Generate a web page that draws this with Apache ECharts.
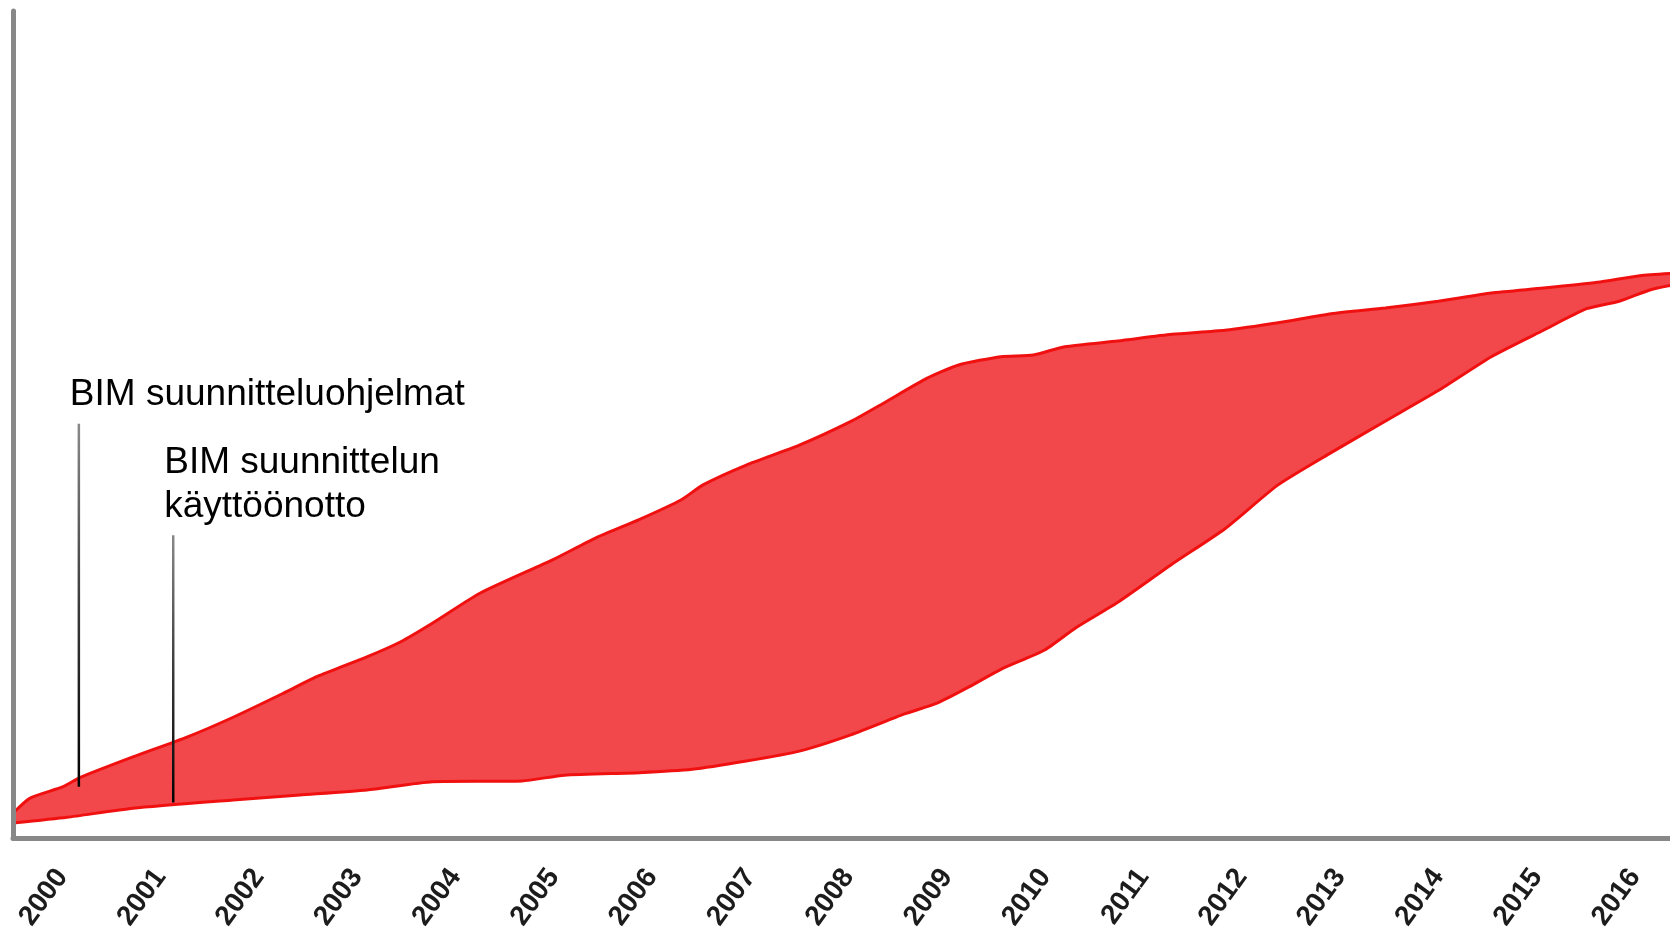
<!DOCTYPE html>
<html>
<head>
<meta charset="utf-8">
<script src="https://cdn.jsdelivr.net/npm/echarts@6/dist/echarts.min.js"></script>
<style>
  html, body { margin: 0; padding: 0; background: #fff; }
  #bim-chart { width: 1670px; height: 933px; }
</style>
</head>
<body>
<div id="bim-chart"></div>
<script>
// Year categories on the x axis
const years = ['2000', '2001', '2002', '2003', '2004', '2005', '2006', '2007', '2008',
    '2009', '2010', '2011', '2012', '2013', '2014', '2015', '2016'];

// Upper edge of the band (x in years, y in % of the axis height)
const upperX = [2000.0, 2000.17, 2000.51, 2000.68, 2001.22, 2001.77, 2002.24, 2002.75, 2003.09,
    2003.60, 2003.94, 2004.27, 2004.75, 2005.50, 2005.93, 2006.37, 2006.80, 2007.02, 2007.46,
    2008.00, 2008.53, 2008.86, 2009.30, 2009.62, 2010.05, 2010.38, 2010.70, 2011.24, 2011.79,
    2012.33, 2012.87, 2013.41, 2013.96, 2014.50, 2015.04, 2015.57, 2016.12, 2016.55, 2016.90];
const upperY = [3.0, 4.8, 6.2, 7.3, 9.8, 12.2, 14.6, 17.5, 19.5,
    21.9, 23.7, 26.0, 29.6, 33.7, 36.3, 38.5, 40.9, 42.7, 45.1,
    47.5, 50.4, 52.6, 55.6, 57.2, 58.2, 58.4, 59.4, 60.1, 60.9,
    61.4, 62.3, 63.4, 64.1, 64.9, 65.9, 66.5, 67.2, 68.0, 68.3];

// Lower edge of the band
const lowerX = [2000.0, 2000.55, 2001.22, 2002.24, 2002.92, 2003.60, 2004.27, 2005.18, 2005.61,
    2006.37, 2006.91, 2007.46, 2008.00, 2008.53, 2009.07, 2009.40, 2009.73, 2010.05, 2010.49,
    2010.81, 2011.24, 2011.79, 2012.33, 2012.87, 2013.41, 2013.96, 2014.50, 2015.04, 2015.57,
    2016.01, 2016.34, 2016.66, 2016.90];
const lowerY = [1.8, 2.5, 3.6, 4.6, 5.2, 5.8, 6.8, 6.9, 7.6,
    7.9, 8.3, 9.3, 10.5, 12.5, 15.0, 16.3, 18.3, 20.4, 22.7,
    25.4, 28.5, 33.1, 37.4, 42.7, 46.6, 50.4, 54.1, 58.2, 61.4,
    64.0, 64.9, 66.3, 66.9];

// Annotation markers: year position, bottom and top of the pointer line, text
const noteX = [2000.67, 2001.63];
const noteBottom = [6.2, 4.3];
const noteTop = [50.1, 36.6];
const noteText = ['BIM suunnitteluohjelmat', 'BIM suunnittelun\nkäyttöönotto'];

const AXIS_COLOR = '#888888';
const BAND_FILL = '#f2484b';
const BAND_EDGE = '#f01010';

let bim_chart = echarts.init(document.getElementById('bim-chart'));

function pairs(xs, ys) {
    return xs.map(function (x, i) { return [x, ys[i]]; });
}

let note_series = noteX.map(function (x, i) {
    return {
        type: 'line',
        xAxisIndex: 1,
        symbol: 'none',
        silent: true,
        z: 5,
        lineStyle: {
            width: 2.5,
            color: new echarts.graphic.LinearGradient(0, 0, 0, 1, [
                {offset: 0, color: '#8a8a8a'},
                {offset: 0.5, color: '#3a3a3a'},
                {offset: 1, color: '#000000'}
            ])
        },
        data: [[x, noteBottom[i]], [x, noteTop[i]]]
    };
});

let options = {
    animation: false,
    grid: {
        left: 13,
        top: 11,
        bottom: 95,
        // 17 yearly bands of ~98 px, the last one runs past the right edge
        right: -14,
        outerBoundsMode: 'none'
    },
    xAxis: [
        {
            type: 'category',
            data: years,
            boundaryGap: true,
            z: 10,
            axisLine: {lineStyle: {color: AXIS_COLOR, width: 5}},
            axisTick: {length: 8, lineStyle: {color: AXIS_COLOR, width: 4}},
            axisLabel: {
                interval: 0,
                rotate: 54,
                margin: 34,
                color: '#1c1c1c',
                fontSize: 28,
                fontWeight: 'bold',
                fontFamily: 'Liberation Sans'
            },
            splitLine: {show: false}
        },
        {
            // Continuous year scale used by the band, hidden
            type: 'value',
            min: 2000,
            max: 2017,
            show: false
        }
    ],
    yAxis: {
        type: 'value',
        min: 0,
        max: 100,
        z: 10,
        axisLine: {show: true, lineStyle: {color: AXIS_COLOR, width: 5}},
        axisTick: {show: false},
        axisLabel: {show: false},
        splitLine: {show: false}
    },
    series: [
        {
            type: 'line',
            xAxisIndex: 1,
            symbol: 'none',
            smooth: 0.2,
            lineStyle: {color: BAND_EDGE, width: 3},
            areaStyle: {color: BAND_FILL, opacity: 1},
            data: pairs(upperX, upperY)
        },
        {
            // White fill below the lower edge cuts the band out
            type: 'line',
            xAxisIndex: 1,
            symbol: 'none',
            smooth: 0.2,
            lineStyle: {color: BAND_EDGE, width: 3},
            areaStyle: {color: '#ffffff', opacity: 1},
            data: pairs(lowerX, lowerY)
        }
    ].concat(note_series)
};

bim_chart.setOption(options);

// Place the annotation texts just above their pointer lines
let note_graphics = noteX.map(function (x, i) {
    let p = bim_chart.convertToPixel({xAxisIndex: 1, yAxisIndex: 0}, [x, noteTop[i]]);
    return {
        type: 'text',
        x: p[0] - 9,
        y: p[1] - 7,
        z: 20,
        style: {
            text: noteText[i],
            fill: '#000000',
            font: '37px "Liberation Sans", Arial, sans-serif',
            lineHeight: 44,
            textAlign: 'left',
            textVerticalAlign: 'bottom'
        }
    };
});
bim_chart.setOption({graphic: note_graphics});

window.addEventListener('resize', function () {
    bim_chart.resize();
});
</script>
</body>
</html>
